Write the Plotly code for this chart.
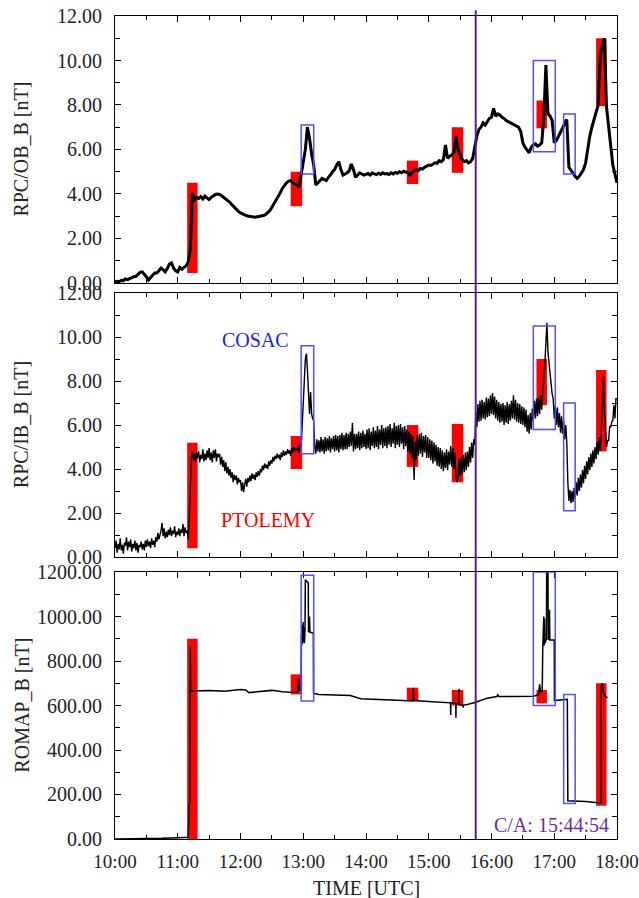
import pandas as pd
import plotly.graph_objects as go
from plotly.subplots import make_subplots

DAY = "2014-11-12 "

# ---------------- RPC/OB_B (2-minute samples, 10:00 .. 18:00) ----------------
ob_b = [
    0.05, 0.08, 0.06, 0.12, 0.10, 0.18, 0.15, 0.20, 0.24, 0.28,   # 10:00
    0.30, 0.38, 0.48, 0.50, 0.40, 0.28, 0.13, 0.22, 0.35, 0.45,   # 10:20
    0.45, 0.55, 0.67, 0.60, 0.50, 0.65, 0.85, 0.90, 0.67, 0.55,   # 10:40
    0.50, 0.70, 0.62, 0.70, 0.77, 0.95, 1.50, 4.05, 3.75, 3.85,   # 11:00
    3.80, 3.88, 3.78, 3.90, 3.82, 3.75, 3.85, 3.92, 3.98, 4.00,   # 11:20
    3.98, 3.92, 3.85, 3.80, 3.72, 3.62, 3.50, 3.40, 3.30, 3.22,   # 11:40
    3.15, 3.10, 3.06, 3.02, 3.00, 2.98, 2.98, 2.96, 2.98, 3.00,   # 12:00
    3.00, 3.03, 3.08, 3.15, 3.25, 3.40, 3.55, 3.72, 3.88, 4.05,   # 12:20
    4.25, 4.40, 4.50, 4.58, 4.60, 4.50, 4.45, 4.40, 4.30, 4.90,   # 12:40
    5.30, 6.00, 7.00, 6.50, 5.80, 5.30, 4.40, 4.50, 4.60, 4.70,   # 13:00
    4.65, 4.60, 4.75, 4.85, 5.00, 5.10, 5.30, 5.45, 5.10, 4.85,   # 13:20
    4.90, 4.95, 5.05, 5.35, 5.10, 4.75, 4.85, 4.95, 4.90, 4.85,   # 13:40
    4.88, 4.92, 4.85, 4.95, 4.90, 4.87, 4.93, 4.88, 4.95, 4.90,   # 14:00
    4.92, 4.88, 4.95, 4.90, 4.97, 4.93, 5.00, 4.95, 5.02, 4.98,   # 14:20
    4.95, 4.85, 4.95, 5.05, 5.10, 5.05, 5.15, 5.12, 5.20, 5.25,   # 14:40
    5.30, 5.28, 5.35, 5.40, 5.38, 5.50, 5.45, 5.55, 6.20, 5.60,   # 15:00
    5.70, 5.75, 5.85, 6.60, 6.00, 5.80, 5.55, 5.45, 5.50, 5.40,   # 15:20
    5.45, 5.60, 6.20, 6.60, 6.90, 7.00, 7.20, 7.10, 7.25, 7.40,   # 15:40
    7.45, 7.85, 7.50, 7.60, 7.55, 7.45, 7.40, 7.30, 7.25, 7.20,   # 16:00
    7.15, 7.10, 7.05, 7.00, 6.80, 6.30, 6.10, 5.95, 5.85, 6.10,   # 16:20
    6.20, 6.25, 6.15, 6.20, 6.30, 7.40, 9.80, 7.60, 7.50, 7.30,   # 16:40
    6.30, 6.40, 6.60, 6.75, 6.95, 7.20, 7.35, 5.20, 5.05, 4.90,   # 17:00
    4.80, 4.70, 4.80, 4.95, 5.10, 5.40, 6.10, 6.60, 7.00, 7.30,   # 17:20
    7.60, 8.00, 10.30, 10.60, 11.00, 7.90, 7.00, 6.00, 5.30, 4.90,  # 17:40
    4.50,                                                          # 18:00
]

# ---------------- RPC/IB_B (1-minute samples, 10:00 .. 18:00) ----------------
ib_b = [
    0.40, 0.75, 0.20, 0.60, 0.35, 0.85, 0.30, 0.55, 0.15, 0.65,   # 10:00
    0.50, 0.90, 0.30, 0.70, 0.45, 0.80, 0.25, 0.60, 0.40, 0.75,   # 10:10
    0.30, 0.65, 0.20, 0.55, 0.45, 0.70, 0.35, 0.60, 0.30, 0.75,   # 10:20
    0.45, 0.80, 0.50, 0.70, 0.40, 0.85, 0.55, 0.75, 0.45, 0.90,   # 10:30
    0.70, 1.10, 0.80, 1.00, 1.20, 1.55, 0.95, 1.30, 0.85, 1.15,   # 10:40
    0.90, 1.25, 1.00, 1.35, 0.95, 1.20, 1.05, 1.40, 0.90, 1.15,   # 10:50
    1.00, 1.30, 0.95, 1.25, 1.10, 1.50, 0.95, 1.35, 1.10, 1.20,   # 11:00
    0.80, 1.80, 3.50, 4.50, 4.80, 4.40, 4.70, 4.30, 4.75, 4.50,   # 11:10
    4.80, 4.30, 4.65, 4.45, 4.90, 4.35, 4.70, 4.40, 4.85, 4.50,   # 11:20
    4.95, 4.40, 4.75, 4.30, 4.85, 4.50, 4.90, 4.35, 4.70, 4.55,   # 11:30
    4.70, 4.20, 4.55, 4.10, 4.40, 3.90, 4.30, 3.80, 4.10, 3.70,   # 11:40
    4.00, 3.60, 3.85, 3.40, 3.75, 3.50, 3.70, 3.30, 3.60, 3.40,   # 11:50
    3.50, 3.00, 3.40, 2.95, 3.30, 3.55, 3.20, 3.60, 3.40, 3.70,   # 12:00
    3.45, 3.80, 3.55, 3.75, 3.50, 3.85, 3.65, 3.90, 3.70, 4.00,   # 12:10
    3.85, 4.15, 3.95, 4.25, 4.05, 4.20, 4.00, 4.35, 4.15, 4.40,   # 12:20
    4.25, 4.55, 4.35, 4.60, 4.45, 4.70, 4.50, 4.65, 4.40, 4.75,   # 12:30
    4.55, 4.85, 4.60, 4.80, 4.65, 4.90, 4.70, 4.85, 4.60, 4.95,   # 12:40
    4.75, 5.00, 4.80, 4.95, 4.85, 5.05, 4.75, 5.10, 5.00, 6.30,   # 12:50
    6.80, 8.00, 9.00, 9.25, 8.50, 7.00, 6.50, 7.50, 6.50, 6.30,   # 13:00
    6.20, 5.00, 4.70, 5.35, 4.80, 5.30, 4.75, 5.45, 4.80, 5.35,   # 13:10
    4.70, 5.45, 4.80, 5.40, 4.85, 5.50, 4.75, 5.40, 4.90, 5.50,   # 13:20
    4.80, 5.55, 4.85, 5.50, 4.75, 5.55, 4.90, 5.65, 4.85, 5.55,   # 13:30
    4.90, 5.65, 4.90, 5.60, 5.00, 5.70, 5.05, 6.10, 4.80, 5.60,   # 13:40
    4.90, 5.60, 4.95, 5.70, 4.85, 5.65, 4.95, 5.75, 5.00, 5.60,   # 13:50
    4.90, 5.80, 4.95, 5.85, 4.85, 5.70, 5.05, 5.90, 4.95, 5.75,   # 14:00
    5.00, 5.95, 4.90, 5.80, 5.10, 6.00, 4.95, 5.85, 5.05, 5.90,   # 14:10
    4.95, 5.95, 5.10, 6.05, 5.00, 5.85, 5.15, 6.10, 4.95, 5.95,   # 14:20
    5.10, 6.00, 5.00, 6.05, 5.15, 5.90, 4.90, 5.95, 5.05, 5.80,   # 14:30
    4.80, 5.70, 4.70, 5.60, 4.50, 5.50, 3.50, 5.25, 4.40, 5.55,   # 14:40
    4.60, 5.60, 4.70, 5.65, 4.55, 5.50, 4.75, 5.55, 4.50, 5.45,   # 14:50
    4.50, 5.35, 4.40, 5.30, 4.25, 5.20, 4.35, 5.10, 4.15, 5.00,   # 15:00
    4.10, 4.95, 4.00, 4.85, 3.90, 4.75, 4.05, 4.90, 3.95, 4.80,   # 15:10
    4.20, 5.05, 4.10, 4.95, 4.00, 4.75, 3.70, 3.40, 3.60, 4.45,   # 15:20
    3.65, 4.55, 3.75, 4.65, 3.85, 4.75, 3.95, 4.80, 4.10, 5.00,   # 15:30
    4.30, 5.20, 4.50, 5.35, 5.10, 6.60, 5.90, 6.95, 6.15, 7.10,   # 15:40
    6.20, 7.15, 6.30, 7.05, 6.25, 7.25, 6.35, 7.20, 6.40, 7.35,   # 15:50
    6.50, 7.45, 6.45, 7.30, 6.30, 7.15, 6.20, 7.05, 6.10, 6.95,   # 16:00
    6.15, 7.00, 6.00, 6.90, 6.10, 7.05, 6.05, 6.95, 6.20, 7.10,   # 16:10
    6.30, 7.35, 6.25, 7.15, 6.15, 7.00, 6.10, 6.95, 6.05, 6.85,   # 16:20
    6.00, 6.80, 5.90, 6.70, 5.70, 6.45, 5.60, 6.55, 5.80, 6.75,   # 16:30
    6.20, 7.10, 6.30, 7.20, 6.40, 7.25, 6.50, 7.35, 6.70, 7.60,   # 16:40
    8.00, 8.80, 9.50, 10.65, 9.30, 8.80, 8.20, 7.90, 7.40, 7.20,  # 16:50
    6.30, 6.90, 6.00, 6.80, 5.90, 6.55, 5.65, 6.40, 5.60, 6.20,   # 17:00
    5.35, 6.00, 5.20, 3.40, 2.55, 3.05, 2.45, 3.00, 2.50, 3.15,   # 17:10
    2.65, 3.40, 2.80, 3.60, 3.00, 3.75, 3.15, 3.95, 3.35, 4.15,   # 17:20
    3.55, 4.35, 3.75, 4.55, 3.95, 4.70, 4.10, 4.85, 4.25, 5.00,   # 17:30
    4.45, 5.25, 4.65, 5.45, 4.85, 5.60, 7.60, 8.20, 6.60, 5.90,   # 17:40
    5.00, 5.30, 5.30, 5.95, 5.90, 6.15, 6.20, 6.90, 6.30, 7.20,   # 17:50
    7.20,                                                          # 18:00
]

# ---------------- ROMAP_B (irregular samples) ----------------
romap_time = [
    "10:00:00", "10:30:00", "10:45:00", "11:00:00", "11:10:00", "11:11:00", "11:11:30",
    "11:12:00", "11:12:20", "11:30:00", "11:45:00", "12:00:00", "12:05:00", "12:08:00",
    "12:20:00", "12:30:00", "12:40:00", "12:50:00", "12:55:00", "12:55:30", "12:56:30",
    "12:58:00", "12:58:15", "12:58:40", "12:59:05", "12:59:30", "12:59:55", "13:00:20",
    "13:00:45", "13:01:10", "13:01:40", "13:02:00", "13:03:30", "13:04:50", "13:05:00",
    "13:05:40", "13:06:00", "13:06:20", "13:09:40", "13:09:50", "13:15:00", "13:30:00",
    "13:45:00", "13:55:00", "14:10:00", "14:30:00", "14:45:00", "14:45:20", "14:45:40",
    "15:00:00", "15:10:00", "15:20:50", "15:21:00", "15:21:10", "15:25:50", "15:26:00",
    "15:26:10", "15:28:50", "15:29:00", "15:29:10", "15:32:50", "15:33:00", "15:33:10",
    "15:37:00", "15:45:00", "15:55:00", "16:05:00", "16:06:00", "16:07:00", "16:20:00",
    "16:40:00", "16:45:00", "16:46:00", "16:47:00", "16:48:30", "16:49:00", "16:49:20",
    "16:49:40", "16:50:00", "16:50:20", "16:50:40", "16:51:00", "16:52:30", "16:52:45",
    "16:54:00", "16:54:15", "16:55:30", "16:55:45", "17:00:00", "17:00:10", "17:12:30",
    "17:13:00", "17:30:00", "17:43:00", "17:44:30", "17:45:00", "17:46:00", "17:47:00",
    "17:49:00", "17:51:00",
]
romap_b = [
    0, 0, 3, 6, 8, 160, 160,
    865, 665, 668, 664, 672, 670, 658,
    662, 668, 662, 658, 662, 722, 670,
    672, 920, 870, 960, 880, 975, 890,
    950, 880, 940, 1165, 1155, 1150, 930,
    935, 1000, 930, 925, 655, 650, 648,
    645, 630, 628, 624, 620, 680, 622,
    618, 615, 612, 557, 612, 610, 545,
    610, 606, 675, 604, 600, 590, 602,
    605, 615, 632, 640, 648, 640, 640,
    642, 648, 695, 660, 662, 860, 990,
    880, 1000, 870, 990, 880, 900, 1200,
    1200, 895, 1030, 895, 895, 622, 628,
    172, 168, 160, 162, 690, 700, 660,
    640, 635,
]

# ---------------- instrument intervals ----------------
ptolemy_start = ["11:09", "12:48", "14:39", "15:22", "16:43", "17:40"]
ptolemy_end = ["11:19", "12:59", "14:50", "15:33", "16:53", "17:50"]
ptolemy_ob = [(0.45, 4.5), (3.45, 5.0), (4.45, 5.5), (4.95, 7.0), (6.95, 8.2), (7.95, 11.0)]
ptolemy_ib = [(0.4, 5.2), (4.0, 5.5), (4.1, 6.0), (3.4, 6.05), (6.9, 9.0), (4.8, 8.5)]
ptolemy_romap = [(0, 900), (650, 740), (620, 680), (600, 670), (610, 670), (150, 700)]

cosac_start = ["12:58", "16:40", "17:09"]
cosac_end = ["13:10", "17:01", "17:20"]
cosac_ob = [(4.9, 7.1), (5.9, 10.0), (4.9, 7.6)]
cosac_ib = [(4.7, 9.6), (5.8, 10.5), (2.1, 7.0)]
cosac_romap = [(620, 1185), (600, 1200), (160, 650)]

closest_approach = "15:44:54"

panel_titles = ["RPC/OB_B [nT]", "RPC/IB_B [nT]", "ROMAP_B [nT]"]
x_ticks = ["10:00", "11:00", "12:00", "13:00", "14:00", "15:00", "16:00", "17:00", "18:00"]

# ---------------- build ----------------
t_ob = pd.date_range(DAY + "10:00", DAY + "18:00", freq="2min")
t_ib = pd.date_range(DAY + "10:00", DAY + "18:00", freq="1min")
t_romap = [DAY + s for s in romap_time]

FONT = "Liberation Serif, Times New Roman, serif"
FS = 20
RED = "#ff0000"
BLUE = "#5050ff"
PURPLE = "#5b1e9a"

fig = make_subplots(rows=3, cols=1, shared_xaxes=False)
fig.add_trace(go.Scatter(x=t_ob, y=ob_b, mode="lines", line=dict(color="black", width=3)), row=1, col=1)
fig.add_trace(go.Scatter(x=t_ib, y=ib_b, mode="lines", line=dict(color="black", width=1.4)), row=2, col=1)
fig.add_trace(go.Scatter(x=t_romap, y=romap_b, mode="lines", line=dict(color="black", width=1.5)), row=3, col=1)

domains = [(0.6756, 1.0), (0.3426, 0.6634), (0.0, 0.3244)]
ranges = [(0, 12), (0, 12), (0, 1200)]
dticks = [2, 2, 200]
axis_refs = [("x", "y"), ("x2", "y2"), ("x3", "y3")]
ptol_sets = [ptolemy_ob, ptolemy_ib, ptolemy_romap]
cosac_sets = [cosac_ob, cosac_ib, cosac_romap]

for i in range(3):
    n = i + 1
    fig.update_xaxes(
        row=n, col=1,
        range=[DAY + "10:00", DAY + "18:00"],
        tickvals=[DAY + s for s in x_ticks],
        ticktext=x_ticks,
        showticklabels=(n == 3),
        ticks="inside", ticklen=6, tickcolor="black",
        minor=dict(ticks="inside", ticklen=4, dtick=1800000, tickcolor="black"),
        showline=True, linecolor="black", linewidth=1.2, mirror="allticks",
        showgrid=False, zeroline=False, automargin=False,
        tickfont=dict(family=FONT, size=19, color="#222"),
        ticklabelstandoff=5, ticklabeloverflow="allow",
    )
    fig.update_yaxes(
        row=n, col=1,
        domain=list(domains[i]),
        range=list(ranges[i]),
        dtick=dticks[i], tick0=0, tickformat=".2f",
        ticks="inside", ticklen=6, tickcolor="black",
        minor=dict(ticks="inside", ticklen=5, dtick=dticks[i] / 2, tickcolor="black"),
        showline=True, linecolor="black", linewidth=1.2, mirror="allticks",
        showgrid=False, zeroline=False, automargin=False,
        tickfont=dict(family=FONT, size=FS, color="#222"),
        ticklabelstandoff=8, ticklabeloverflow="allow",
    )
    xr, yr = axis_refs[i]
    for s, e, (lo, hi) in zip(ptolemy_start, ptolemy_end, ptol_sets[i]):
        fig.add_shape(type="rect", xref=xr, yref=yr, x0=DAY + s, x1=DAY + e, y0=lo, y1=hi,
                      fillcolor=RED, line=dict(width=0), layer="below")
    for s, e, (lo, hi) in zip(cosac_start, cosac_end, cosac_sets[i]):
        fig.add_shape(type="rect", xref=xr, yref=yr, x0=DAY + s, x1=DAY + e, y0=lo, y1=hi,
                      fillcolor="rgba(0,0,0,0)", line=dict(color=BLUE, width=1.5), layer="above")
    fig.add_annotation(xref="paper", yref="paper", x=-0.187, y=(domains[i][0] + domains[i][1]) / 2,
                       text=panel_titles[i], textangle=-90, showarrow=False,
                       xanchor="center", yanchor="middle",
                       font=dict(family=FONT, size=FS, color="#222"))

# closest approach line
fig.add_shape(type="line", xref="x3", yref="paper",
              x0=DAY + closest_approach, x1=DAY + closest_approach, y0=0, y1=1.007,
              line=dict(color=PURPLE, width=2), layer="above")

fig.add_annotation(xref="paper", yref="paper", x=0.5, y=-0.0595, text="TIME [UTC]",
                   showarrow=False, xanchor="center", yanchor="middle",
                   font=dict(family=FONT, size=FS, color="#222"))
fig.add_annotation(xref="paper", yref="paper", x=(255 - 115) / 502, y=(839 - 340) / 823, text="COSAC",
                   showarrow=False, xanchor="center", yanchor="middle",
                   font=dict(family=FONT, size=FS, color="#2020f0"))
fig.add_annotation(xref="paper", yref="paper", x=(268 - 115) / 502, y=(839 - 520) / 823, text="PTOLEMY",
                   showarrow=False, xanchor="center", yanchor="middle",
                   font=dict(family=FONT, size=FS, color=RED))
fig.add_annotation(xref="paper", yref="paper", x=(551 - 115) / 502, y=(839 - 825) / 823, text="C/A: 15:44:54",
                   showarrow=False, xanchor="center", yanchor="middle",
                   font=dict(family=FONT, size=FS, color="#6a2ca0"))

fig.update_layout(
    width=639, height=898,
    margin=dict(l=115, r=22, t=16, b=59, autoexpand=False),
    paper_bgcolor="white", plot_bgcolor="white",
    showlegend=False,
    font=dict(family=FONT, color="#222"),
)

# remove the default page margin so the figure sits at the window's top-left corner
fig.write_html(
    "out.html",
    config={"displayModeBar": False},
    post_script="document.body.style.margin='0';document.body.style.padding='0';"
                "document.body.style.overflow='hidden';",
)
